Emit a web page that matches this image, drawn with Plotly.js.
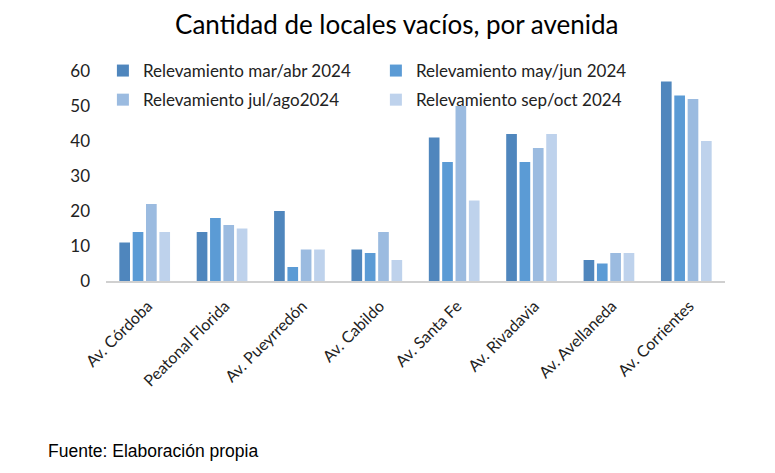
<!DOCTYPE html>
<html><head><meta charset="utf-8">
<script src="https://cdn.plot.ly/plotly-3.0.1.min.js"></script>
<style>body{margin:0;background:#fff}#c{width:775px;height:473px}</style>
</head><body><div id="c"></div>
<script>
const categories = ["Av. Córdoba","Peatonal Florida","Av. Pueyrredón","Av. Cabildo","Av. Santa Fe","Av. Rivadavia","Av. Avellaneda","Av. Corrientes"];
const seriesNames = ["Relevamiento mar/abr 2024","Relevamiento may/jun 2024","Relevamiento jul/ago2024","Relevamiento sep/oct 2024"];
const marAbr = [11,14,20,9,41,42,6,57];
const mayJun = [14,18,4,8,34,34,5,53];
const julAgo = [22,16,9,14,50,38,8,52];
const sepOct = [14,15,9,6,23,42,8,40];
const colors = ["#4f86bd","#5b9bd5","#9bbbe0","#bed2ec"];
const tickVals = [0,10,20,30,40,50,60];

const values = [marAbr, mayJun, julAgo, sepOct];
const legendOf = ["legend","legend2","legend","legend2"];
const traces = values.map((v,i)=>({type:"bar",name:seriesNames[i],x:categories,y:v,marker:{color:colors[i]},
  legend:legendOf[i],legendgroup:"g"+i,hoverinfo:"y"}));
const font = "Lato, 'Open Sans', sans-serif";
const legFont = {family:font,size:17,color:"#222"};
const layout = {
  width:775,height:473,
  margin:{l:106,r:50,t:71,b:192},
  paper_bgcolor:"#fff",plot_bgcolor:"#fff",
  barmode:"group",bargap:0.31,bargroupgap:0.2,
  title:{text:"Cantidad de locales vacíos, por avenida",x:0.512,xanchor:"center",y:0.947,yanchor:"middle",font:{family:font,size:26,color:"#000"}},
  xaxis:{tickangle:-45,tickfont:{family:font,size:16,color:"#222"},ticklabelshift:3,ticklabelstandoff:8,showline:true,linecolor:"#d0d0d0",linewidth:1.5,ticks:"",showgrid:false,fixedrange:true},
  yaxis:{range:[0,60],tickvals:tickVals,tickfont:{family:font,size:17,color:"#222"},showgrid:false,zeroline:false,showline:false,ticks:"",ticklabelstandoff:15,fixedrange:true},
  showlegend:true,
  legend:{orientation:"v",x:-0.005,xanchor:"left",y:1.0857,yanchor:"top",font:legFont,itemwidth:30,tracegroupgap:4,bgcolor:"rgba(0,0,0,0)"},
  legend2:{orientation:"v",x:0.436,xanchor:"left",y:1.0857,yanchor:"top",font:legFont,itemwidth:30,tracegroupgap:4,bgcolor:"rgba(0,0,0,0)"},
  annotations:[{text:"Fuente: Elaboración propia",xref:"paper",yref:"paper",x:-0.097,xanchor:"left",y:-0.81,yanchor:"middle",showarrow:false,font:{family:"'Liberation Sans', Arial, sans-serif",size:17.5,color:"#000"}}]
};
Plotly.newPlot("c",traces,layout,{displayModeBar:false,staticPlot:true});
</script></body></html>
